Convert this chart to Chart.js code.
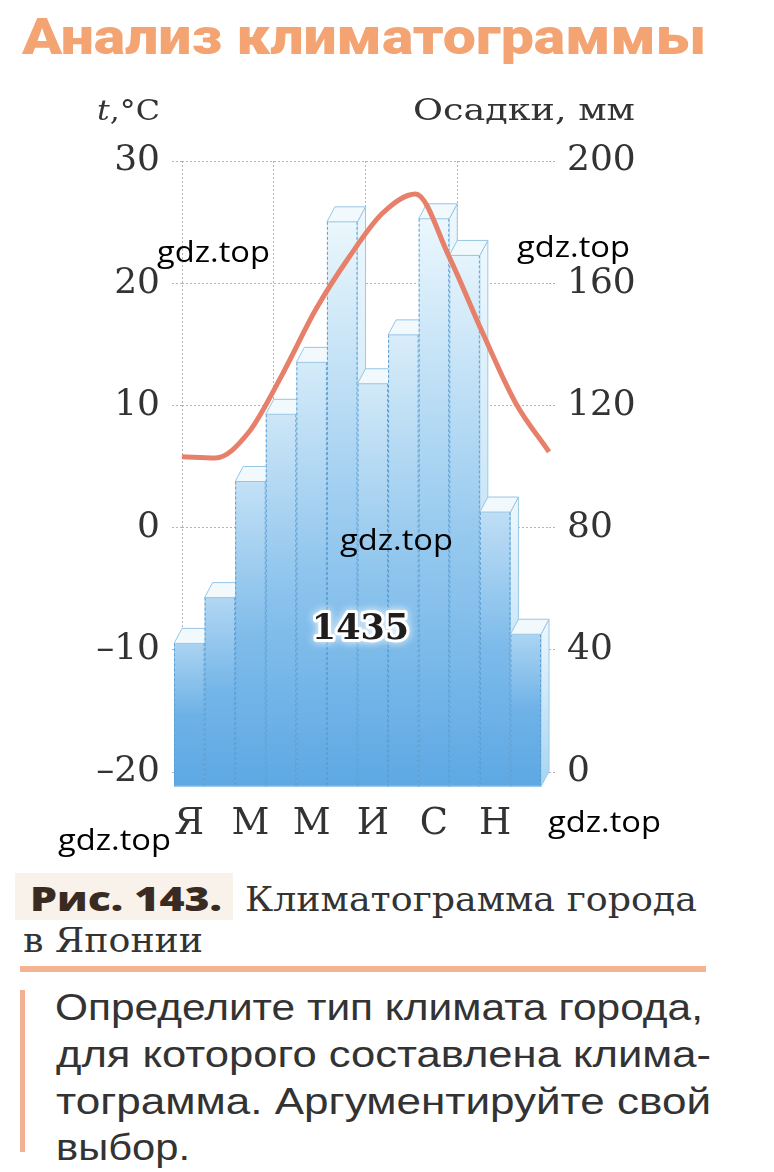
<!DOCTYPE html>
<html><head><meta charset="utf-8">
<script src="https://cdn.jsdelivr.net/npm/chart.js@4.4.1/dist/chart.umd.min.js"></script>
<style>
html,body{margin:0;padding:0;background:#fff;}
body{width:774px;height:1172px;position:relative;overflow:hidden;}
#c{position:absolute;left:0;top:0;}
.t{position:absolute;white-space:nowrap;transform-origin:0 0;line-height:1;}
</style></head><body>
<canvas id="c" width="774" height="860"></canvas>
<script>
// ---- data ----
const months = ['Я','Ф','М','А','М','И','И','А','С','О','Н','Д'];
const precipitation = [47, 62, 100, 122, 139, 185, 132, 148, 186, 174, 90, 50]; // mm
const temperature = [5.8, 5.7, 7.8, 12.5, 17.8, 22.1, 25.7, 27.3, 22.2, 16.0, 10.2, 6.2]; // °C
const tempTicks = {min:-20, max:30, step:10};
const precTicks = {min:0, max:200, step:40};

const DX = 8, DY = 15;
function lerp(a,b,t){return a+(b-a)*t;}
function mix(c1,c2,t){return 'rgb('+[0,1,2].map(i=>Math.round(lerp(c1[i],c2[i],t))).join(',')+')';}
const LIGHT=[228,245,252], DARK=[92,168,228], WHITE=[255,255,255];
function colAt(y){const t=Math.max(0,Math.min(1,(y-200)/(790-200)));return [0,1,2].map(i=>lerp(LIGHT[i],DARK[i],t));}

const bar3d = {
  id:'bar3d',
  beforeDatasetsDraw(chart){
    const meta = chart.getDatasetMeta(1);
    const xs = chart.scales.x;
    const ctx = chart.ctx;
    const step = xs.getPixelForValue(1) - xs.getPixelForValue(0);
    ctx.save();
    meta.data.forEach((bar, i)=>{
      const p = bar.getProps(['y','base'], true);
      const cx = xs.getPixelForValue(i);
      const L = cx - step/2, R = cx + step/2, T = p.y, B = p.base;
      const fL=L-DX, fR=R-DX, fT=T+DY, fB=B+DY;
      // side face
      let g = ctx.createLinearGradient(0,T,0,fB);
      g.addColorStop(0,'#eef8fd'); g.addColorStop(1,'#a6d4f2');
      ctx.beginPath(); ctx.moveTo(fR,fT); ctx.lineTo(R,T); ctx.lineTo(R,B); ctx.lineTo(fR,fB); ctx.closePath();
      ctx.fillStyle=g; ctx.fill();
      ctx.strokeStyle='#9cc9e6'; ctx.lineWidth=1; ctx.setLineDash([]); ctx.stroke();
      // front face
      g = ctx.createLinearGradient(0,fT,0,fB);
      const cT=colAt(fT), cM=colAt((fT+fB)/2), cB=colAt(fB);
      g.addColorStop(0, mix(cT,WHITE,0.35)); g.addColorStop(0.5, mix(cM,cM,0)); g.addColorStop(1, mix(cB,cB,0));
      ctx.fillStyle=g; ctx.fillRect(fL,fT,fR-fL,fB-fT);
      ctx.strokeStyle='#5b9ed2'; ctx.lineWidth=1; ctx.setLineDash([3,2]);
      ctx.beginPath(); ctx.moveTo(fL+0.5,fT); ctx.lineTo(fL+0.5,fB); ctx.moveTo(fR-0.5,fT); ctx.lineTo(fR-0.5,fB); ctx.stroke();
      ctx.setLineDash([]);
      ctx.strokeStyle='#8fc0e2';
      ctx.beginPath(); ctx.moveTo(fL,fB-0.5); ctx.lineTo(fR,fB-0.5); ctx.stroke();
      // top face
      ctx.beginPath(); ctx.moveTo(fL,fT); ctx.lineTo(fR,fT); ctx.lineTo(R,T); ctx.lineTo(L,T); ctx.closePath();
      ctx.fillStyle='#f1f9fd'; ctx.fill();
      ctx.strokeStyle='#96c6e6'; ctx.lineWidth=1; ctx.stroke();
    });
    ctx.restore();
  },
  afterDatasetsDraw(chart){
    const ctx = chart.ctx;
    const total = precipitation.reduce((a,b)=>a+b,0);
    const x = chart.scales.xl.getPixelForValue(5.35);
    const y = chart.scales.y2.getPixelForValue(46.5);
    ctx.save();
    ctx.font = 'bold 35px "DejaVu Serif"';
    ctx.textAlign='center'; ctx.textBaseline='middle';
    ctx.lineJoin='round';
    ctx.shadowColor='rgba(255,255,255,0.9)'; ctx.shadowBlur=8;
    ctx.strokeStyle='#ffffff'; ctx.lineWidth=6; ctx.strokeText(String(total),x,y);
    ctx.shadowBlur=0;
    ctx.fillStyle='#1e1e1e'; ctx.fillText(String(total),x,y);
    ctx.restore();
  }
};

const GRID='#b3b3b3';
const chart = new Chart(document.getElementById('c'), {
  type:'bar',
  data:{
    labels: months,
    datasets:[
      {type:'line', label:'t', data: temperature.map((t,i)=>({x:i,y:t})), xAxisID:'xl', yAxisID:'y',
       borderColor:'#e7806a', borderWidth:5, pointRadius:0, cubicInterpolationMode:'monotone', fill:false, order:0, clip:false},
      {type:'bar', label:'P', data: precipitation, xAxisID:'x', yAxisID:'y2', grouped:false,
       backgroundColor:'rgba(0,0,0,0)', borderWidth:0, barPercentage:1, categoryPercentage:1, order:1}
    ]
  },
  options:{
    responsive:false, animation:false,
    layout:{padding:{top:161,left:0,right:0,bottom:0}},
    plugins:{legend:{display:false}, tooltip:{enabled:false}},
    scales:{
      x:{type:'category', position:'bottom', offset:true,
         grid:{color:(c)=> (c.index%3===0 ? GRID : 'rgba(0,0,0,0)'), drawTicks:false, offset:true, lineWidth:1},
         border:{display:false, dash:[2,2]},
         ticks:{color:'#333', font:{family:'DejaVu Serif', size:37}, padding:30, labelOffset:-DX, maxRotation:0, autoSkip:false,
                callback:function(v,i){return i%2===0 ? this.getLabelForValue(v) : '';}},
         afterFit:(s)=>{s.height=88;}},
      xl:{type:'linear', min:0, max:11, display:false, offset:false, grid:{offset:false}},
      y:{type:'linear', position:'left', min:tempTicks.min, max:tempTicks.max,
         ticks:{stepSize:tempTicks.step, color:'#333', font:{family:'DejaVu Serif', size:36}, padding:12,
                callback:(v)=> v<0 ? '–'+Math.abs(v) : String(v)},
         grid:{color:GRID, tickColor:GRID, tickLength:10, tickBorderDash:[2,2], lineWidth:1},
         border:{display:false, dash:[2,2]},
         afterFit:(s)=>{s.width=182;}},
      y2:{type:'linear', position:'right', min:precTicks.min, max:precTicks.max,
         ticks:{stepSize:precTicks.step, color:'#333', font:{family:'DejaVu Serif', size:36}, padding:10},
         grid:{drawOnChartArea:false, tickColor:GRID, tickLength:8, tickBorderDash:[2,2]},
         border:{display:false, dash:[2,2]},
         afterFit:(s)=>{s.width=225;}}
    }
  },
  plugins:[bar3d]
});

// ---- page texts ----
function rect(l,t,w,h,c){const d=document.createElement('div');d.style.cssText=`position:absolute;left:${l}px;top:${t}px;width:${w}px;height:${h}px;background:${c};`;document.body.appendChild(d);}
function place(o){
  const d=document.createElement('div');
  d.className='t'; d.style.font=o.font; d.style.color=o.color;
  d.innerHTML=o.html;
  const m=document.createElement('span'); m.style.cssText='display:inline-block;width:0;height:0;vertical-align:baseline;';
  d.appendChild(m); document.body.appendChild(d);
  const w=d.getBoundingClientRect().width, b=m.offsetTop;
  d.style.left=o.left+'px'; d.style.top=(o.base-b)+'px';
  if(o.width) d.style.transform='scaleX('+(o.width/w)+')';
}
rect(15,873,218,47,'#f8f2ea');
rect(20,966,686,6,'#f4b48f');
rect(20,990,5,162,'#f2b193');
const SERIF='"DejaVu Serif", serif';
const texts=[
  {html:'Анализ климатограммы', font:'900 50px Roboto, "DejaVu Sans", sans-serif', color:'#f4a372', left:22, base:54, width:684},
  {html:'<i>t</i>,°C', font:'27px '+SERIF, color:'#333', left:97, base:120, width:63},
  {html:'Осадки, мм', font:'30px '+SERIF, color:'#333', left:413, base:120, width:222},
  {html:'Рис. 143.', font:'800 34px "Open Sans", "DejaVu Sans", sans-serif', color:'#3a2b22', left:30, base:911, width:192},
  {html:'Климатограмма города', font:'34px '+SERIF, color:'#333', left:245, base:911, width:452},
  {html:'в Японии', font:'34px '+SERIF, color:'#333', left:23, base:952, width:180},
  {html:'Определите тип климата города,', font:'37px "Liberation Sans Narrow", sans-serif', color:'#333', left:55, base:1020, width:648},
  {html:'для которого составлена клима-', font:'37px "Liberation Sans Narrow", sans-serif', color:'#333', left:56, base:1067, width:655},
  {html:'тограмма. Аргументируйте свой', font:'37px "Liberation Sans Narrow", sans-serif', color:'#333', left:56, base:1114, width:655},
  {html:'выбор.', font:'37px "Liberation Sans Narrow", sans-serif', color:'#333', left:56, base:1160, width:134},
  {html:'gdz.top', font:'30px "Open Sans", sans-serif', color:'#000', left:157, base:262, width:113},
  {html:'gdz.top', font:'30px "Open Sans", sans-serif', color:'#000', left:517, base:257, width:113},
  {html:'gdz.top', font:'30px "Open Sans", sans-serif', color:'#000', left:340, base:550, width:113},
  {html:'gdz.top', font:'30px "Open Sans", sans-serif', color:'#000', left:58, base:850, width:113},
  {html:'gdz.top', font:'30px "Open Sans", sans-serif', color:'#000', left:548, base:832, width:113}
];
texts.forEach(place);
</script>
</body></html>
